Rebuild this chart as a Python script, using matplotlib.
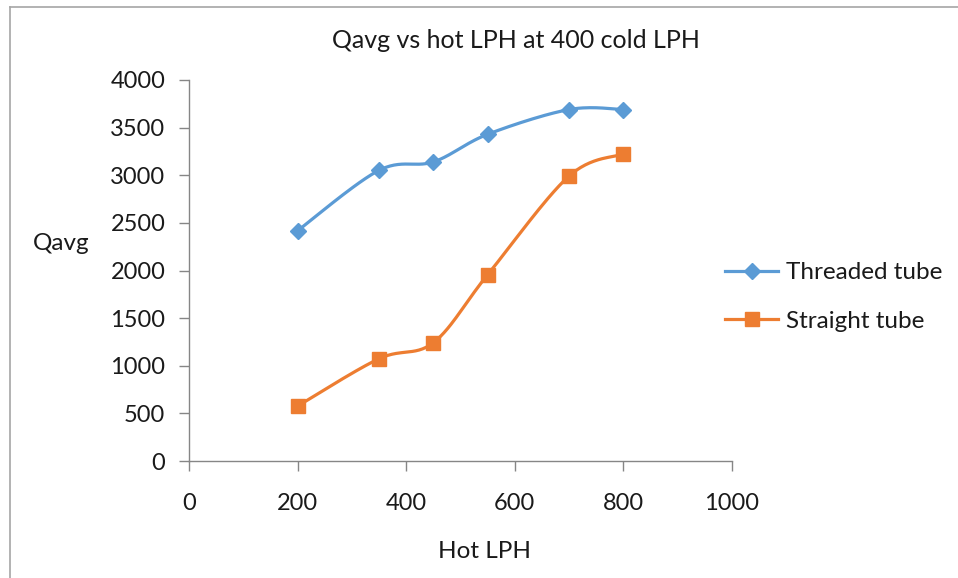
import numpy as np
import matplotlib.pyplot as plt
from matplotlib.lines import Line2D

plt.rcParams['font.family'] = ['Lato', 'DejaVu Sans']

hot_lph = [200, 350, 450, 550, 700, 800]
threaded = [2418, 3052, 3140, 3430, 3690, 3690]
straight = [577, 1074, 1242, 1956, 2992, 3222]


def smooth(xs, ys, n=30):
    # Catmull-Rom style bezier through the points, like spreadsheet smoothed lines
    p = np.column_stack([xs, ys]).astype(float)
    p = np.vstack([p[0], p, p[-1]])
    out = []
    for i in range(1, len(p) - 2):
        p0, p1, p2, p3 = p[i - 1], p[i], p[i + 1], p[i + 2]
        c1 = p1 + (p2 - p0) / 6
        c2 = p2 - (p3 - p1) / 6
        t = np.linspace(0, 1, n)[:, None]
        seg = ((1 - t) ** 3) * p1 + 3 * ((1 - t) ** 2) * t * c1 + 3 * (1 - t) * t ** 2 * c2 + t ** 3 * p2
        out.append(seg)
    seg = np.vstack(out)
    return seg[:, 0], seg[:, 1]


fig = plt.figure(figsize=(9.58, 5.78), dpi=100)
ax = fig.add_axes([189 / 958, 1 - 461 / 578, (732 - 189) / 958, (461 - 80) / 578])

blue = '#5B9BD5'
orange = '#ED7D31'
for ys, col, mk, ms, name in [(threaded, blue, 'D', 8, 'Threaded tube'),
                              (straight, orange, 's', 10, 'Straight tube')]:
    sx, sy = smooth(hot_lph, ys)
    ax.plot(sx, sy, color=col, lw=2.3, solid_capstyle='round')
    ax.plot(hot_lph, ys, ls='none', marker=mk, ms=ms, color=col)

ax.set_xlim(0, 1000)
ax.set_ylim(0, 4000)
ax.set_xticks(range(0, 1001, 200))
ax.set_yticks(range(0, 4001, 500))
for s in ['top', 'right']:
    ax.spines[s].set_visible(False)
for s in ['left', 'bottom']:
    ax.spines[s].set_color('#868686')
    ax.spines[s].set_linewidth(1)
ax.tick_params(colors='#868686', labelcolor='#1a1a1a', labelsize=17, length=7, width=1)
ax.tick_params(axis='x', pad=16)
ax.tick_params(axis='y', pad=10)

fig.text(516 / 958, 1 - 40 / 578, 'Qavg vs hot LPH at 400 cold LPH', ha='center', va='center', fontsize=18, color='#1a1a1a')
fig.text(61 / 958, 1 - 243 / 578, 'Qavg', ha='center', va='center', fontsize=17.5, color='#1a1a1a')
fig.text(485 / 958, 1 - 552 / 578, 'Hot LPH', ha='center', va='center', fontsize=17.5, color='#1a1a1a')

handles = [Line2D([], [], color=blue, lw=2.3, marker='D', ms=8),
           Line2D([], [], color=orange, lw=2.3, marker='s', ms=10)]
fig.legend(handles, ['Threaded tube', 'Straight tube'], loc='center left',
           bbox_to_anchor=(725 / 958, 1 - 297 / 578), frameon=False, fontsize=17.5,
           handlelength=2.2, handletextpad=0.3, labelspacing=1.15, labelcolor='#1a1a1a',
           borderaxespad=0, borderpad=0)

# chart area border (left and top edges)
fig.add_artist(Line2D([10 / 958, 10 / 958], [0, 1 - 7 / 578], color='#a6a6a6', lw=1.2, transform=fig.transFigure))
fig.add_artist(Line2D([10 / 958, 1], [1 - 7 / 578, 1 - 7 / 578], color='#a6a6a6', lw=1.2, transform=fig.transFigure))

fig.savefig('out.png', dpi=100)
